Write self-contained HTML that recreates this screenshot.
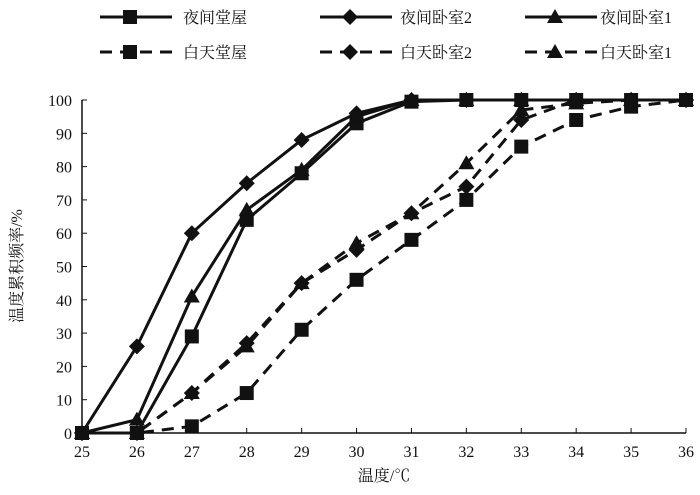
<!DOCTYPE html>
<html><head><meta charset="utf-8"><style>
body{margin:0;background:#fff}
svg text{font-family:"Liberation Serif","Noto Serif CJK SC",serif;fill:#111}
</style></head><body>
<svg id="c" width="700" height="490"></svg>
<script>
const categories=[25,26,27,28,29,30,31,32,33,34,35,36];
const nightHall=[0,0,29,64,78,93,99.5,100,100,100,100,100];
const nightBed2=[0,26,60,75,88,96,100,100,100,100,100,100];
const nightBed1=[0,4,41,67,79,95,100,100,100,100,100,100];
const dayHall=[0,0,2,12,31,46,58,70,86,94,98,100];
const dayBed2=[0,0,12,27,45,55,66,74,94,100,100,100];
const dayBed1=[0,0,12,26,45,57,66,81,97,99,100,100];
const yTicks=[0,10,20,30,40,50,60,70,80,90,100];
const seriesNames=["夜间堂屋","夜间卧室2","夜间卧室1","白天堂屋","白天卧室2","白天卧室1"];
const NS="http://www.w3.org/2000/svg";
const svg=document.getElementById('c');
const X0=82,X1=686,Y0=433,Y1=100;
const xs=v=>X0+(v-25)*(X1-X0)/11;
const ys=v=>Y0-v*(Y0-Y1)/100;
function el(t,a,p){const e=document.createElementNS(NS,t);for(const k in a)e.setAttribute(k,a[k]);(p||svg).appendChild(e);return e;}
function marker(type,x,y,g){
  if(type==='sq')return el('rect',{x:x-7,y:y-7,width:14,height:14,fill:'#111'},g);
  if(type==='dm')return el('polygon',{points:`${x},${y-8} ${x+8},${y} ${x},${y+8} ${x-8},${y}`,fill:'#111'},g);
  return el('polygon',{points:`${x},${y-8} ${x+8},${y+6} ${x-8},${y+6}`,fill:'#111'},g);
}
const ax=el('g',{});
el('line',{x1:X0,y1:Y1,x2:X0,y2:Y0,stroke:'#111','stroke-width':1.5},ax);
el('line',{x1:X0,y1:Y0,x2:X1,y2:Y0,stroke:'#111','stroke-width':1.5},ax);
yTicks.forEach(v=>{
  el('line',{x1:X0,y1:ys(v),x2:X0+5,y2:ys(v),stroke:'#111'},ax);
  const t=el('text',{x:X0-10,y:ys(v)+6,'text-anchor':'end','font-size':16},ax);t.textContent=v;
  
  
});
categories.forEach(v=>{
  el('line',{x1:xs(v),y1:Y0,x2:xs(v),y2:Y0-5,stroke:'#111'},ax);
  const t=el('text',{x:xs(v),y:Y0+24,'text-anchor':'middle','font-size':16},ax);t.textContent=v;
  
  
});
const xt=el('text',{x:384,y:481,'text-anchor':'middle','font-size':16});xt.textContent='温度/℃';


const yt=el('text',{x:22,y:266,'text-anchor':'middle','font-size':16,transform:'rotate(-90 22 266)'});yt.textContent='温度累积频率/%';


const series=[[nightHall,'sq',false],[nightBed2,'dm',false],[nightBed1,'tr',false],[dayHall,'sq',true],[dayBed2,'dm',true],[dayBed1,'tr',true]];
series.forEach((s,i)=>{
  const g=el('g',{});
  
  
  const pts=s[0].map((v,j)=>xs(categories[j])+','+ys(v)).join(' ');
  el('polyline',{points:pts,fill:'none',stroke:'#111','stroke-width':3,'stroke-dasharray':s[2]?'12,8':'none'},g);
  s[0].forEach((v,j)=>marker(s[1],xs(categories[j]),ys(v),g));
});
const lx=[100,320,525],tx=[183,400,600],ly=[17,52];
series.forEach((s,i)=>{
  const g=el('g',{});
  
  
  const c=i%3,r=Math.floor(i/3),y=ly[r];
  el('line',{x1:lx[c],y1:y,x2:lx[c]+72,y2:y,stroke:'#111','stroke-width':3,'stroke-dasharray':s[2]?'12,8':'none'},g);
  marker(s[1],lx[c]+30,y,g);
  const t=el('text',{x:tx[c],y:y+6,'font-size':16},g);t.textContent=seriesNames[i];
});
</script>
</body></html>
